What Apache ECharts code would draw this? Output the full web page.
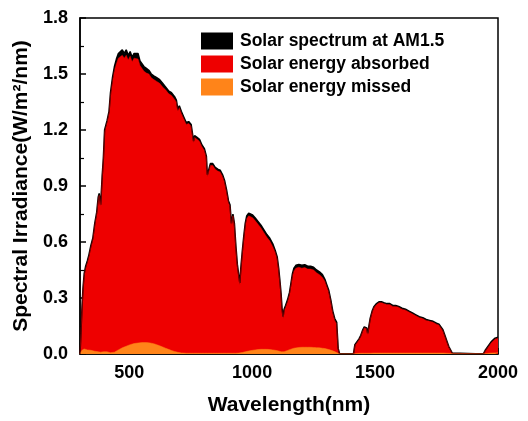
<!DOCTYPE html>
<html>
<head>
<meta charset="utf-8">
<script src="https://cdn.jsdelivr.net/npm/echarts@6/dist/echarts.min.js"></script>
<style>
  html, body { margin: 0; padding: 0; background: #fff; }
  #chart { width: 528px; height: 421px; }
</style>
</head>
<body>
<div id="chart"></div>
<script>
// Wavelength samples (nm)
const wavelengths = [300,304,308,312,317,323,330,336,344,352,360,368,374,378,384,390,395,400,410,418,424,432,440,448,456,464,472,480,488,496,504,512,520,528,536,544,552,560,570,580,590,600,612,624,636,648,660,672,684,692,698,704,712,722,732,742,752,758,762,766,776,786,796,806,814,818,822,830,840,850,860,870,880,888,896,904,910,916,922,928,934,940,946,950,954,960,966,972,978,986,994,1002,1012,1024,1036,1048,1060,1072,1084,1094,1102,1108,1114,1118,1122,1126,1130,1136,1144,1152,1158,1164,1170,1178,1190,1202,1214,1226,1238,1250,1262,1274,1286,1296,1304,1312,1320,1328,1336,1344,1350,1356,1412,1418,1426,1434,1442,1450,1456,1462,1466,1470,1474,1480,1488,1496,1506,1516,1526,1536,1548,1560,1572,1584,1596,1610,1624,1638,1652,1666,1680,1694,1708,1722,1736,1750,1760,1768,1776,1784,1792,1800,1808,1814,1820,1940,1948,1956,1964,1972,1980,1988,1996,2000];

// AM1.5 solar spectrum (W/m2/nm)
const spectrumAM15 = [0,0.12,0.25,0.35,0.43,0.47,0.50,0.53,0.58,0.62,0.70,0.76,0.84,0.86,0.80,0.95,1.05,1.20,1.25,1.30,1.40,1.48,1.54,1.58,1.61,1.62,1.63,1.61,1.63,1.60,1.62,1.59,1.61,1.60,1.61,1.57,1.56,1.54,1.53,1.52,1.50,1.49,1.48,1.47,1.45,1.43,1.41,1.40,1.38,1.36,1.31,1.33,1.30,1.27,1.24,1.245,1.23,1.22,1.14,1.17,1.16,1.15,1.12,1.10,1.06,0.96,0.98,1.02,1.02,1.00,0.99,0.985,0.96,0.93,0.88,0.82,0.80,0.70,0.75,0.70,0.58,0.48,0.42,0.38,0.46,0.55,0.63,0.70,0.74,0.755,0.75,0.745,0.73,0.71,0.69,0.665,0.64,0.62,0.59,0.555,0.52,0.46,0.38,0.32,0.24,0.20,0.24,0.26,0.29,0.33,0.38,0.43,0.46,0.475,0.48,0.475,0.478,0.47,0.47,0.465,0.45,0.44,0.425,0.40,0.37,0.34,0.29,0.23,0.19,0.17,0.03,0,0,0.05,0.065,0.08,0.10,0.13,0.145,0.15,0.14,0.11,0.12,0.19,0.23,0.255,0.27,0.28,0.28,0.275,0.27,0.27,0.26,0.26,0.255,0.245,0.24,0.23,0.22,0.21,0.20,0.195,0.185,0.18,0.175,0.165,0.16,0.15,0.13,0.10,0.07,0.04,0.02,0.005,0,0,0.02,0.035,0.05,0.065,0.075,0.085,0.09,0.09];

// Energy absorbed (W/m2/nm)
const absorbed = [0,0.11,0.24,0.34,0.42,0.46,0.49,0.52,0.57,0.61,0.69,0.75,0.83,0.85,0.79,0.94,1.04,1.19,1.24,1.29,1.385,1.46,1.52,1.555,1.585,1.595,1.60,1.585,1.60,1.575,1.595,1.565,1.585,1.575,1.58,1.545,1.535,1.515,1.505,1.50,1.48,1.47,1.46,1.45,1.43,1.415,1.395,1.385,1.365,1.35,1.30,1.32,1.29,1.26,1.23,1.235,1.22,1.21,1.13,1.16,1.15,1.14,1.11,1.09,1.05,0.95,0.97,1.01,1.01,0.99,0.98,0.975,0.95,0.92,0.87,0.81,0.79,0.69,0.74,0.69,0.57,0.47,0.41,0.37,0.45,0.54,0.62,0.69,0.725,0.74,0.735,0.73,0.715,0.695,0.675,0.65,0.625,0.605,0.575,0.545,0.51,0.45,0.37,0.31,0.23,0.19,0.23,0.25,0.28,0.32,0.37,0.42,0.445,0.46,0.465,0.46,0.463,0.455,0.455,0.45,0.435,0.425,0.41,0.39,0.36,0.33,0.28,0.22,0.18,0.16,0.025,0,0,0.045,0.06,0.075,0.095,0.125,0.14,0.145,0.135,0.105,0.115,0.185,0.225,0.25,0.265,0.275,0.275,0.27,0.265,0.265,0.255,0.255,0.25,0.24,0.235,0.225,0.215,0.205,0.195,0.19,0.18,0.175,0.17,0.16,0.155,0.145,0.125,0.095,0.065,0.036,0.017,0.004,0,0,0.017,0.031,0.045,0.06,0.07,0.08,0.085,0.085];

// Energy missed (W/m2/nm)
const missed = [0,0.01,0.02,0.025,0.027,0.027,0.022,0.02,0.02,0.017,0.015,0.013,0.012,0.012,0.01,0.012,0.012,0.012,0.012,0.009,0.007,0.006,0.01,0.016,0.022,0.028,0.033,0.038,0.042,0.046,0.05,0.053,0.056,0.058,0.059,0.06,0.061,0.061,0.061,0.06,0.058,0.055,0.05,0.044,0.038,0.031,0.025,0.019,0.014,0.011,0.009,0.008,0.006,0.005,0.004,0.004,0.004,0.004,0.004,0.004,0.004,0.004,0.004,0.004,0.004,0.004,0.004,0.004,0.004,0.004,0.004,0.004,0.004,0.004,0.004,0.004,0.004,0.004,0.004,0.004,0.004,0.004,0.005,0.005,0.006,0.008,0.01,0.012,0.014,0.016,0.018,0.02,0.022,0.024,0.025,0.025,0.025,0.024,0.022,0.02,0.018,0.016,0.014,0.012,0.011,0.01,0.012,0.015,0.019,0.023,0.026,0.029,0.031,0.033,0.035,0.036,0.036,0.036,0.036,0.035,0.034,0.033,0.031,0.029,0.027,0.024,0.021,0.017,0.013,0.008,0.003,0,0,0.003,0.003,0.004,0.004,0.004,0.004,0.004,0.004,0.004,0.004,0.004,0.005,0.005,0.005,0.005,0.005,0.005,0.005,0.005,0.005,0.005,0.005,0.005,0.005,0.005,0.005,0.005,0.005,0.005,0.005,0.005,0.005,0.005,0.005,0.005,0.005,0.004,0.004,0.004,0.003,0.002,0.001,0,0,0.003,0.004,0.005,0.006,0.006,0.007,0.007,0.007];

const seriesNames = ['Solar spectrum at AM1.5', 'Solar energy absorbed', 'Solar energy missed'];
const seriesColors = ['#000000', '#ee0000', '#ff8419'];
const xTicks = [500, 1000, 1500, 2000];

const pairs = vals => wavelengths.map((w, i) => [w, vals[i]]);
const font = 'Liberation Sans, Arial, sans-serif';

const chart = echarts.init(document.getElementById('chart'), null, { renderer: 'canvas' });

function areaSeries(name, vals, color, lineWidth) {
  return {
    name: name,
    type: 'line',
    data: pairs(vals),
    showSymbol: false,
    symbol: 'none',
    smooth: false,
    animation: false,
    silent: true,
    lineStyle: { color: color, width: lineWidth },
    itemStyle: { color: color },
    areaStyle: { color: color, opacity: 1 }
  };
}

chart.setOption({
  animation: false,
  backgroundColor: '#ffffff',
  grid: {
    left: 80, right: 30, top: 18, bottom: 67,
    show: true, borderColor: '#000', borderWidth: 1.5, backgroundColor: 'transparent'
  },
  legend: {
    orient: 'vertical',
    left: 201, top: 32,
    padding: 0,
    itemWidth: 32, itemHeight: 17, itemGap: 5,
    icon: 'rect',
    data: seriesNames.map((n, i) => ({ name: n, itemStyle: { color: seriesColors[i] } })),
    textStyle: { fontFamily: font, fontWeight: 'bold', fontSize: 17.5, color: '#000', padding: [0, 0, 0, 2] }
  },
  xAxis: {
    type: 'value',
    min: 300, max: 2000,
    name: 'Wavelength(nm)',
    nameLocation: 'middle',
    nameGap: 41,
    nameTextStyle: { fontFamily: font, fontWeight: 'bold', fontSize: 21, color: '#000' },
    axisLine: { show: true, onZero: false, lineStyle: { color: '#000', width: 1.5 } },
    axisTick: { show: true, inside: true, length: 6, customValues: xTicks, lineStyle: { color: '#000', width: 1.5 } },
    axisLabel: {
      customValues: xTicks, margin: 10, fontFamily: font, fontWeight: 'bold', fontSize: 18, color: '#000',
      formatter: v => String(v)
    },
    splitLine: { show: false }
  },
  yAxis: {
    type: 'value',
    min: 0, max: 1.8, interval: 0.3,
    name: 'Spectral Irradiance(W/m²/nm)',
    nameLocation: 'middle',
    nameGap: 41,
    nameTextStyle: { fontFamily: font, fontWeight: 'bold', fontSize: 21, color: '#000' },
    axisLine: { show: true, lineStyle: { color: '#000', width: 1.5 } },
    axisTick: { show: true, inside: true, length: 6, lineStyle: { color: '#000', width: 1.5 } },
    minorTick: { show: true, splitNumber: 2, length: 4, lineStyle: { color: '#000', width: 1.2 } },
    axisLabel: {
      margin: 12, fontFamily: font, fontWeight: 'bold', fontSize: 18, color: '#000',
      formatter: v => v.toFixed(1)
    },
    splitLine: { show: false }
  },
  series: [
    areaSeries(seriesNames[0], spectrumAM15, seriesColors[0], 1.5),
    areaSeries(seriesNames[1], absorbed, seriesColors[1], 0.5),
    areaSeries(seriesNames[2], missed, seriesColors[2], 0.5)
  ]
});
</script>
</body>
</html>
